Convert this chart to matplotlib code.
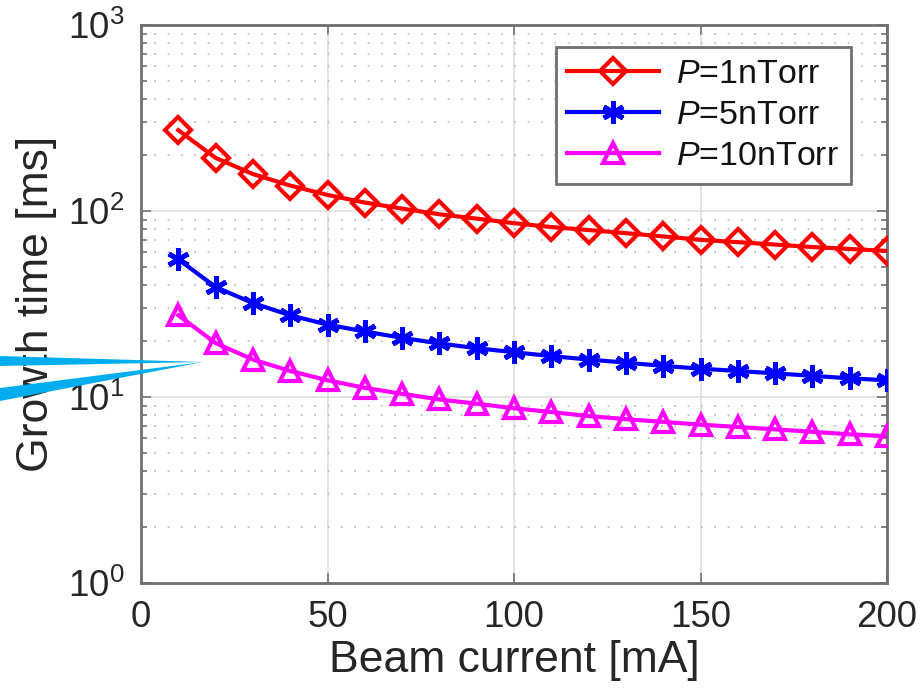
import matplotlib
matplotlib.use("Agg")
import matplotlib.pyplot as plt
import numpy as np
from matplotlib.patches import Polygon
from matplotlib.ticker import LogLocator, NullFormatter, FixedLocator

plt.rcParams['font.family'] = ['Liberation Sans', 'DejaVu Sans']
plt.rcParams['mathtext.fontset'] = 'custom'
plt.rcParams['mathtext.rm'] = 'Liberation Sans'
plt.rcParams['mathtext.it'] = 'Liberation Sans:italic'

current = [10, 20, 30, 40, 50, 60, 70, 80, 90, 100,
           110, 120, 130, 140, 150, 160, 170, 180, 190, 200]
p1 = [272, 193, 158, 137, 122, 111, 103, 96, 91, 86,
      82, 79, 76, 73, 70, 68, 66, 64, 62.5, 61]
p5 = [55, 39, 32, 27.5, 24.5, 22.5, 20.8, 19.4, 18.3, 17.4,
      16.6, 15.9, 15.3, 14.7, 14.2, 13.8, 13.4, 13.0, 12.6, 12.3]
p10 = [27.5, 19.5, 15.9, 13.8, 12.3, 11.2, 10.4, 9.7, 9.2, 8.7,
       8.3, 7.9, 7.6, 7.35, 7.1, 6.9, 6.7, 6.5, 6.3, 6.15]
labels = ['$P$=1nTorr', '$P$=5nTorr', '$P$=10nTorr']
xticks = [0, 50, 100, 150, 200]
yticks = [1, 10, 100, 1000]
yticklabels = ['$10^{0}$', '$10^{1}$', '$10^{2}$', '$10^{3}$']

W, H = 922, 700
fig = plt.figure(figsize=(W / 100, H / 100), dpi=100)
ax = fig.add_axes([141 / W, 1 - 583 / H, (887 - 141) / W, (583 - 25) / H])

txt = '#262626'
ax.plot(current, p1, color='red', lw=3, marker='D', ms=13, mfc='none', mew=3, label=labels[0], zorder=3)
ax.plot(current, p5, color='blue', lw=3, marker=(6, 2, 0), ms=16, mew=3.5, label=labels[1], zorder=3)
ax.plot(current, p10, color='magenta', lw=3, marker='^', ms=14, mfc='none', mew=3, label=labels[2], zorder=3)

ax.set_yscale('log')
ax.set_xlim(0, 200)
ax.set_ylim(1, 1000)
ax.xaxis.set_major_locator(FixedLocator(xticks))
ax.set_xticklabels([str(v) for v in xticks])
ax.yaxis.set_major_locator(FixedLocator(yticks))
ax.set_yticklabels(yticklabels)
ax.yaxis.set_minor_locator(LogLocator(base=10, subs=np.arange(2, 10), numticks=20))
ax.yaxis.set_minor_formatter(NullFormatter())

ax.grid(True, which='major', color='#dddddd', lw=1.2, ls='-', zorder=0)
ax.grid(True, which='minor', axis='y', color='#b8b8b8', lw=1.2, ls=(0, (1, 7)), zorder=0)
ax.set_axisbelow(True)

for s in ax.spines.values():
    s.set_color('#707070')
    s.set_linewidth(2)
ax.tick_params(which='both', direction='in', top=True, right=True, colors='#707070',
               labelcolor=txt, labelsize=26.5, pad=12)
ax.tick_params(which='major', length=7, width=1.2)
ax.tick_params(which='minor', length=4, width=1.2)

ax.set_xlabel('Beam current [mA]', fontsize=32, color=txt, labelpad=4)
ax.set_ylabel('Growth time [ms]', fontsize=32, color=txt, labelpad=8)

leg = ax.legend(loc='upper right', bbox_to_anchor=(0.952, 0.961), borderaxespad=0,
                fontsize=24.5, handlelength=2.7, handletextpad=0.5, labelspacing=0.3,
                fancybox=False, framealpha=1, edgecolor='#707070', borderpad=0.35)
leg.get_frame().set_linewidth(2)
for t in leg.get_texts():
    t.set_color('#111111')

# cyan wedge overlay (in pixel coordinates, origin bottom-left)
def px(pts):
    return [(x, H - y) for x, y in pts]
upper = Polygon(px([(0, 356), (203, 362), (0, 366)]), closed=True, transform=None,
                facecolor='#00aeef', edgecolor='none', zorder=10)
lower = Polygon(px([(0, 388), (203, 362), (0, 401)]), closed=True, transform=None,
                facecolor='#00aeef', edgecolor='none', zorder=10)
fig.patches.extend([upper, lower])

fig.savefig('out.png', dpi=100)
